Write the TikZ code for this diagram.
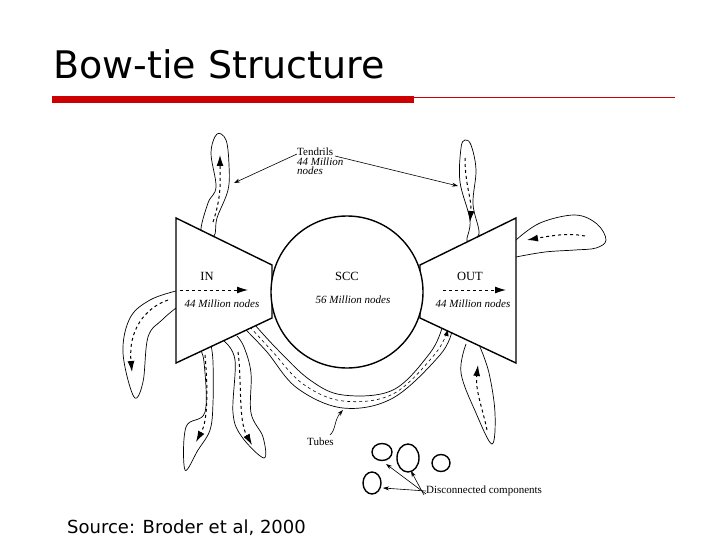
\documentclass[tikz,border=0pt]{standalone}
\usepackage{fontspec}
\setmainfont{Liberation Serif}
\newfontfamily\titlefont{DejaVu Sans}
\usetikzlibrary{arrows.meta}
\begin{document}
\begin{tikzpicture}[x=1pt,y=-1pt,
  shape line/.style={draw,line width=1.4pt},
  blob/.style={draw,line width=0.7pt},
  flow/.style={dashed,line width=1pt,-{Latex[length=11pt,width=7pt]}},
  pointer/.style={line width=0.6pt,-{Stealth[length=6pt,width=4pt]}},
  lbl/.style={font=\fontsize{12.5}{13}\selectfont,inner sep=0pt},
  ilbl/.style={font=\fontsize{11}{11}\selectfont\itshape,inner sep=0pt}]
\useasboundingbox[fill=white] (0,0) rectangle (720,540);
\node[anchor=base west,font=\titlefont\fontsize{38}{40}\selectfont,inner sep=0pt] (title) at (53,79) {Bow-tie Structure};
\fill[red!80!black] (52,96) rectangle (414,103);
\draw[red!80!black,line width=0.5pt] (414,97) -- (675,97);
\node[anchor=base west,font=\titlefont\fontsize{18}{19}\selectfont,inner sep=0pt] (src) at (67,533) {Source: Broder et al, 2000};
% tendrils
\draw[blob] plot[smooth cycle,tension=0.6] coordinates{(201,232)(208,203)(216,187)(211,153)(217,134)(226,140)(229,165)(228,190)(217,218)(214,236)};
\draw[flow] (213,222) .. controls (222,195) and (220,180) .. (220,155);
\draw[blob] plot[smooth cycle,tension=0.6] coordinates{(467,241)(470,220)(460,182)(461,148)(465,140)(471,145)(476,170)(473,204)(479,234)};
\draw[flow] (465,158) .. controls (465,185) and (472,200) .. (470,222);
\draw[blob] plot[smooth,tension=0.6] coordinates{(516,240)(540,223)(575,215)(597,224)(606,240)(596,248)(575,250)(545,252)(516,257)};
\draw[flow] (585,236) .. controls (570,233) and (555,235) .. (527,240);
\draw[blob] plot[smooth,tension=0.6] coordinates{(176,291)(150,300)(130,318)(123,353)(134,397)(143,382)(148,337)(162,320)(176,308)};
\draw[flow] (168,300) .. controls (145,308) and (128,330) .. (132,372);
\draw[blob] plot[smooth,tension=0.6] coordinates{(199,348)(204,362)(205,412)(186,427)(185,470)(198,450)(210,430)(213,403)(213,362)(211,345)};
\draw[flow] (205,355) .. controls (208,390) and (208,420) .. (196,442);
\draw[blob] plot[smooth,tension=0.6] coordinates{(224,341)(235,360)(233,413)(242,437)(264,458)(263,437)(251,413)(251,373)(244,347)(237,336)};
\draw[flow] (238,352) .. controls (242,380) and (238,420) .. (252,445);
\draw[blob] plot[smooth,tension=0.6] coordinates{(466,344)(461,373)(476,413)(492,444)(495,413)(489,373)(480,347)};
\draw[flow] (487,430) .. controls (483,410) and (475,390) .. (478,365);
% tubes
\draw[blob] plot[smooth,tension=0.6] coordinates{(246,330)(267,352)(297,388)(343,408)(393,398)(440,355)(452,331)};
\draw[blob] plot[smooth,tension=0.6] coordinates{(255,325)(278,350)(310,380)(343,395)(393,390)(430,353)(442,328)};
\draw[line width=0.6pt,dashed,-{Latex[length=7pt,width=5pt]}] plot[smooth,tension=0.6] coordinates{(250,327)(272,351)(303,384)(343,401)(393,394)(435,354)(448,329)};
% bowtie
\draw[shape line,fill=white] (176,218) -- (272,265) -- (272,318) -- (176,363) -- cycle;
\draw[shape line,fill=white] (516,218) -- (420,265) -- (420,318) -- (516,363) -- cycle;
\draw[shape line,fill=white] (347,292) circle[radius=76];
\node[lbl] (in) at (207,276) {IN};
\node[lbl] (scc) at (347,276) {SCC};
\node[lbl] (out) at (470,276) {OUT};
\node[ilbl] (inn) at (222,304) {44 Million nodes};
\node[ilbl] (sccn) at (353,300) {56 Million nodes};
\node[ilbl] (outn) at (473,304) {44 Million nodes};
\coordinate (ia) at (180,290); \coordinate (ib) at (248,290);
\coordinate (oa) at (443,290); \coordinate (ob) at (506,290);
\draw[flow] (ia) -- (ib);
\draw[flow] (oa) -- (ob);
% tendril label
\node[anchor=north west,align=left,inner sep=0pt,font=\fontsize{11}{9.5}\selectfont] (tl) at (297,148) {Tendrils\\\itshape 44 Million\\\itshape nodes};
\coordinate (t1) at (234,183); \coordinate (t2) at (458,186);
\draw[pointer] (tl.north west)++(0,6) -- (t1);
\draw[pointer] (tl.north west)++(38,8) -- (t2);
% tubes label
\node[font=\fontsize{11}{11}\selectfont,inner sep=0pt,anchor=north west] (tubes) at (307,438) {Tubes};
\coordinate (tu) at (343,410);
\draw[pointer] (330,435) .. controls (336,430) and (334,420) .. (tu);
% disconnected
\draw[line width=1.4pt] (382,452) ellipse[x radius=10,y radius=8.5];
\draw[line width=1.4pt] (408,458) ellipse[x radius=11,y radius=14];
\draw[line width=1.4pt] (441,463) ellipse[x radius=9,y radius=8.5];
\draw[line width=1.4pt] (372,483) ellipse[x radius=9,y radius=11];
\node[font=\fontsize{11}{11}\selectfont,inner sep=0pt,anchor=west] (dc) at (426,491) {Disconnected components};
\coordinate (d1) at (383,488); \coordinate (d2) at (386,464); \coordinate (d3) at (411,471);
\draw[pointer] (dc.west) -- (d1);
\draw[pointer] ([yshift=-3]dc.west) -- (d2);
\draw[pointer] ([yshift=-4,xshift=-2]dc.west) -- (d3);
\end{tikzpicture}
\end{document}
